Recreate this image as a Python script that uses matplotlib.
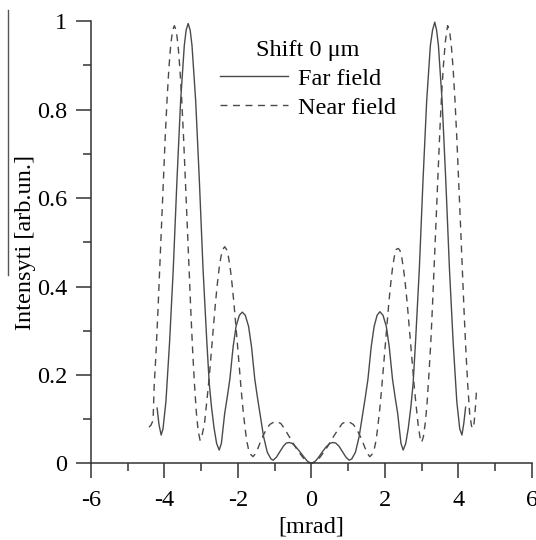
import matplotlib
matplotlib.use("Agg")
import matplotlib.pyplot as plt
from matplotlib.ticker import MultipleLocator, FuncFormatter
from matplotlib.lines import Line2D

plt.rcParams['font.family'] = ['Liberation Serif', 'DejaVu Serif']
plt.rcParams['axes.unicode_minus'] = False

# far field (solid)
far_x = [-4.20, -4.15, -4.09, -4.04, -3.96, -3.86, -3.76, -3.66, -3.56, -3.46, -3.41, -3.355,
         -3.30, -3.25, -3.15, -3.05, -2.95, -2.85, -2.78, -2.72, -2.65, -2.58, -2.51,
         -2.45, -2.36, -2.29, -2.22, -2.13, -2.05, -1.96, -1.88, -1.80, -1.71, -1.63, -1.54,
         -1.47, -1.40, -1.30, -1.20, -1.10, -1.04,
         -0.95, -0.86, -0.76, -0.68, -0.60, -0.52, -0.42, -0.31, -0.20, -0.10, 0.00,
         0.10, 0.20, 0.30, 0.40, 0.50, 0.58, 0.66, 0.75, 0.85, 0.94, 1.03,
         1.10, 1.20, 1.30, 1.40, 1.47, 1.54, 1.63, 1.71, 1.79, 1.865, 1.95, 2.04, 2.12, 2.21,
         2.28, 2.35, 2.44, 2.50,
         2.57, 2.64, 2.71, 2.77, 2.84, 2.94, 3.04, 3.14, 3.24, 3.30, 3.36, 3.41, 3.46, 3.56,
         3.66, 3.76, 3.86, 3.96, 4.04, 4.10, 4.15, 4.20]
far_y = [0.125, 0.088, 0.064, 0.078, 0.14, 0.275, 0.44, 0.64, 0.82, 0.945, 0.98, 0.995,
         0.98, 0.945, 0.82, 0.64, 0.44, 0.28, 0.18, 0.128, 0.08, 0.045, 0.03,
         0.045, 0.113, 0.15, 0.19, 0.264, 0.31, 0.335, 0.342, 0.335, 0.31, 0.264, 0.19,
         0.15, 0.113, 0.06, 0.025, 0.01, 0.007,
         0.014, 0.026, 0.039, 0.046, 0.047, 0.045, 0.037, 0.026, 0.014, 0.004, 0.0,
         0.004, 0.014, 0.026, 0.037, 0.045, 0.047, 0.046, 0.039, 0.026, 0.014, 0.007,
         0.01, 0.025, 0.06, 0.113, 0.15, 0.19, 0.264, 0.31, 0.335, 0.343, 0.335, 0.31, 0.264, 0.19,
         0.15, 0.113, 0.045, 0.03,
         0.045, 0.08, 0.128, 0.18, 0.28, 0.44, 0.64, 0.82, 0.945, 0.98, 0.998, 0.98, 0.945, 0.82,
         0.64, 0.44, 0.275, 0.14, 0.078, 0.064, 0.09, 0.127]

# near field (dashed)
near_x = [-4.42, -4.37, -4.31, -4.28, -4.23, -4.18, -4.13, -4.08, -4.03, -3.98, -3.93, -3.88,
          -3.83, -3.78, -3.73, -3.68, -3.63, -3.58, -3.53, -3.48, -3.43, -3.38, -3.33, -3.28,
          -3.23, -3.18, -3.13, -3.08, -3.03,
          -2.98, -2.91, -2.86, -2.81, -2.76, -2.71, -2.66, -2.61, -2.56, -2.51, -2.46, -2.41,
          -2.36, -2.31, -2.26, -2.21, -2.16, -2.11, -2.06, -2.01, -1.96, -1.91, -1.86, -1.81,
          -1.76, -1.71, -1.65, -1.59,
          -1.52, -1.45, -1.38, -1.31, -1.22, -1.13, -1.03, -0.93, -0.83, -0.73, -0.63, -0.53,
          -0.42, -0.31, -0.20, -0.10, 0.00,
          0.10, 0.20, 0.31, 0.42, 0.53, 0.63, 0.74, 0.84, 0.94, 1.04, 1.14, 1.23, 1.32, 1.39,
          1.46, 1.53, 1.59,
          1.65, 1.71, 1.76, 1.81, 1.86, 1.91, 1.96, 2.01, 2.06, 2.11, 2.16, 2.21, 2.26, 2.31,
          2.365, 2.41, 2.46, 2.51, 2.56, 2.61, 2.66, 2.71, 2.76, 2.81, 2.86, 2.91, 2.96, 3.00,
          3.05, 3.10, 3.15, 3.20, 3.25, 3.30, 3.35, 3.40, 3.45, 3.50, 3.55, 3.60, 3.65, 3.71,
          3.76, 3.81, 3.86, 3.91, 3.96, 4.01, 4.06, 4.11, 4.16, 4.21, 4.26, 4.31, 4.36, 4.39,
          4.43, 4.47, 4.50]
near_y = [0.082, 0.086, 0.097, 0.175, 0.25, 0.34, 0.44, 0.54, 0.64, 0.737, 0.822, 0.893,
          0.946, 0.979, 0.99, 0.979, 0.946, 0.893, 0.822, 0.737, 0.64, 0.54, 0.44, 0.34,
          0.25, 0.175, 0.113, 0.072, 0.052,
          0.062, 0.09, 0.13, 0.17, 0.215, 0.266, 0.316, 0.364, 0.406, 0.442, 0.468, 0.484,
          0.49, 0.484, 0.468, 0.442, 0.406, 0.364, 0.316, 0.266, 0.215, 0.165, 0.121, 0.083,
          0.051, 0.031, 0.02, 0.015,
          0.022, 0.035, 0.05, 0.063, 0.078, 0.088, 0.093, 0.094, 0.09, 0.078, 0.064, 0.05,
          0.035, 0.022, 0.01, 0.003, 0.0,
          0.003, 0.01, 0.022, 0.035, 0.05, 0.064, 0.078, 0.09, 0.094, 0.093, 0.088, 0.078, 0.063, 0.05,
          0.035, 0.022, 0.015,
          0.02, 0.031, 0.051, 0.083, 0.121, 0.165, 0.215, 0.266, 0.316, 0.364, 0.406, 0.442, 0.468, 0.484,
          0.486, 0.482, 0.466, 0.44, 0.404, 0.362, 0.314, 0.264, 0.213, 0.165, 0.125, 0.085, 0.058, 0.047,
          0.06, 0.09, 0.135, 0.2, 0.27, 0.36, 0.46, 0.56, 0.66, 0.755, 0.84, 0.905, 0.955, 0.99,
          0.98, 0.946, 0.893, 0.822, 0.737, 0.642, 0.542, 0.439, 0.34, 0.251, 0.175, 0.113, 0.085, 0.079,
          0.09, 0.13, 0.17]

x_ticks = [-6, -4, -2, 0, 2, 4, 6]
y_ticks = [0, 0.2, 0.4, 0.6, 0.8, 1]

line_col = '#4a4a4a'
axis_col = '#333333'
fs = 17.5

fig = plt.figure(figsize=(5.36, 5.40), dpi=100)
ax = fig.add_axes([0.1698, 0.142, 0.8222, 0.8186])

ax.plot(far_x, far_y, color=line_col, lw=1.0, label='Far field', clip_on=False)
ax.plot(near_x, near_y, color=line_col, lw=1.0, ls=(0, (5, 4)), label='Near field', clip_on=False)

ax.set_xlim(-6, 6)
ax.set_ylim(0, 1)
ax.set_xticks(x_ticks)
ax.set_yticks(y_ticks)
ax.xaxis.set_minor_locator(MultipleLocator(1))
ax.yaxis.set_minor_locator(MultipleLocator(0.1))
fmt = FuncFormatter(lambda v, p: '%g' % v)
ax.xaxis.set_major_formatter(fmt)
ax.yaxis.set_major_formatter(fmt)

for s in ['top', 'right']:
    ax.spines[s].set_visible(False)
for s in ['left', 'bottom']:
    ax.spines[s].set_color(axis_col)
    ax.spines[s].set_linewidth(1.1)

ax.tick_params(which='major', direction='out', length=11, width=1.1, color=axis_col,
               labelsize=fs, pad=6)
ax.tick_params(which='minor', direction='out', length=6, width=1.1, color=axis_col)
ax.tick_params(axis='x', which='major', pad=8)

ax.set_xlabel('[mrad]', fontsize=fs)
ax.set_ylabel('Intensyti [arb.un.]', fontsize=fs)
ax.xaxis.set_label_coords(0.5, -0.12)
ax.yaxis.set_label_coords(-0.125, 0.5)

leg = ax.legend(title='Shift 0 μm', frameon=False, fontsize=fs, title_fontsize=fs,
                handlelength=2.8, handletextpad=0.4, labelspacing=0.29,
                loc='upper left', bbox_to_anchor=(0.27, 0.98), borderaxespad=0)
for h in leg.get_lines():
    h.set_linewidth(1.0)

# thin stray line at the left edge of the scan
fig.add_artist(Line2D([0.014, 0.014], [0.981, 0.491], color='#555555', lw=1.0))

fig.savefig('out.png', dpi=100)
